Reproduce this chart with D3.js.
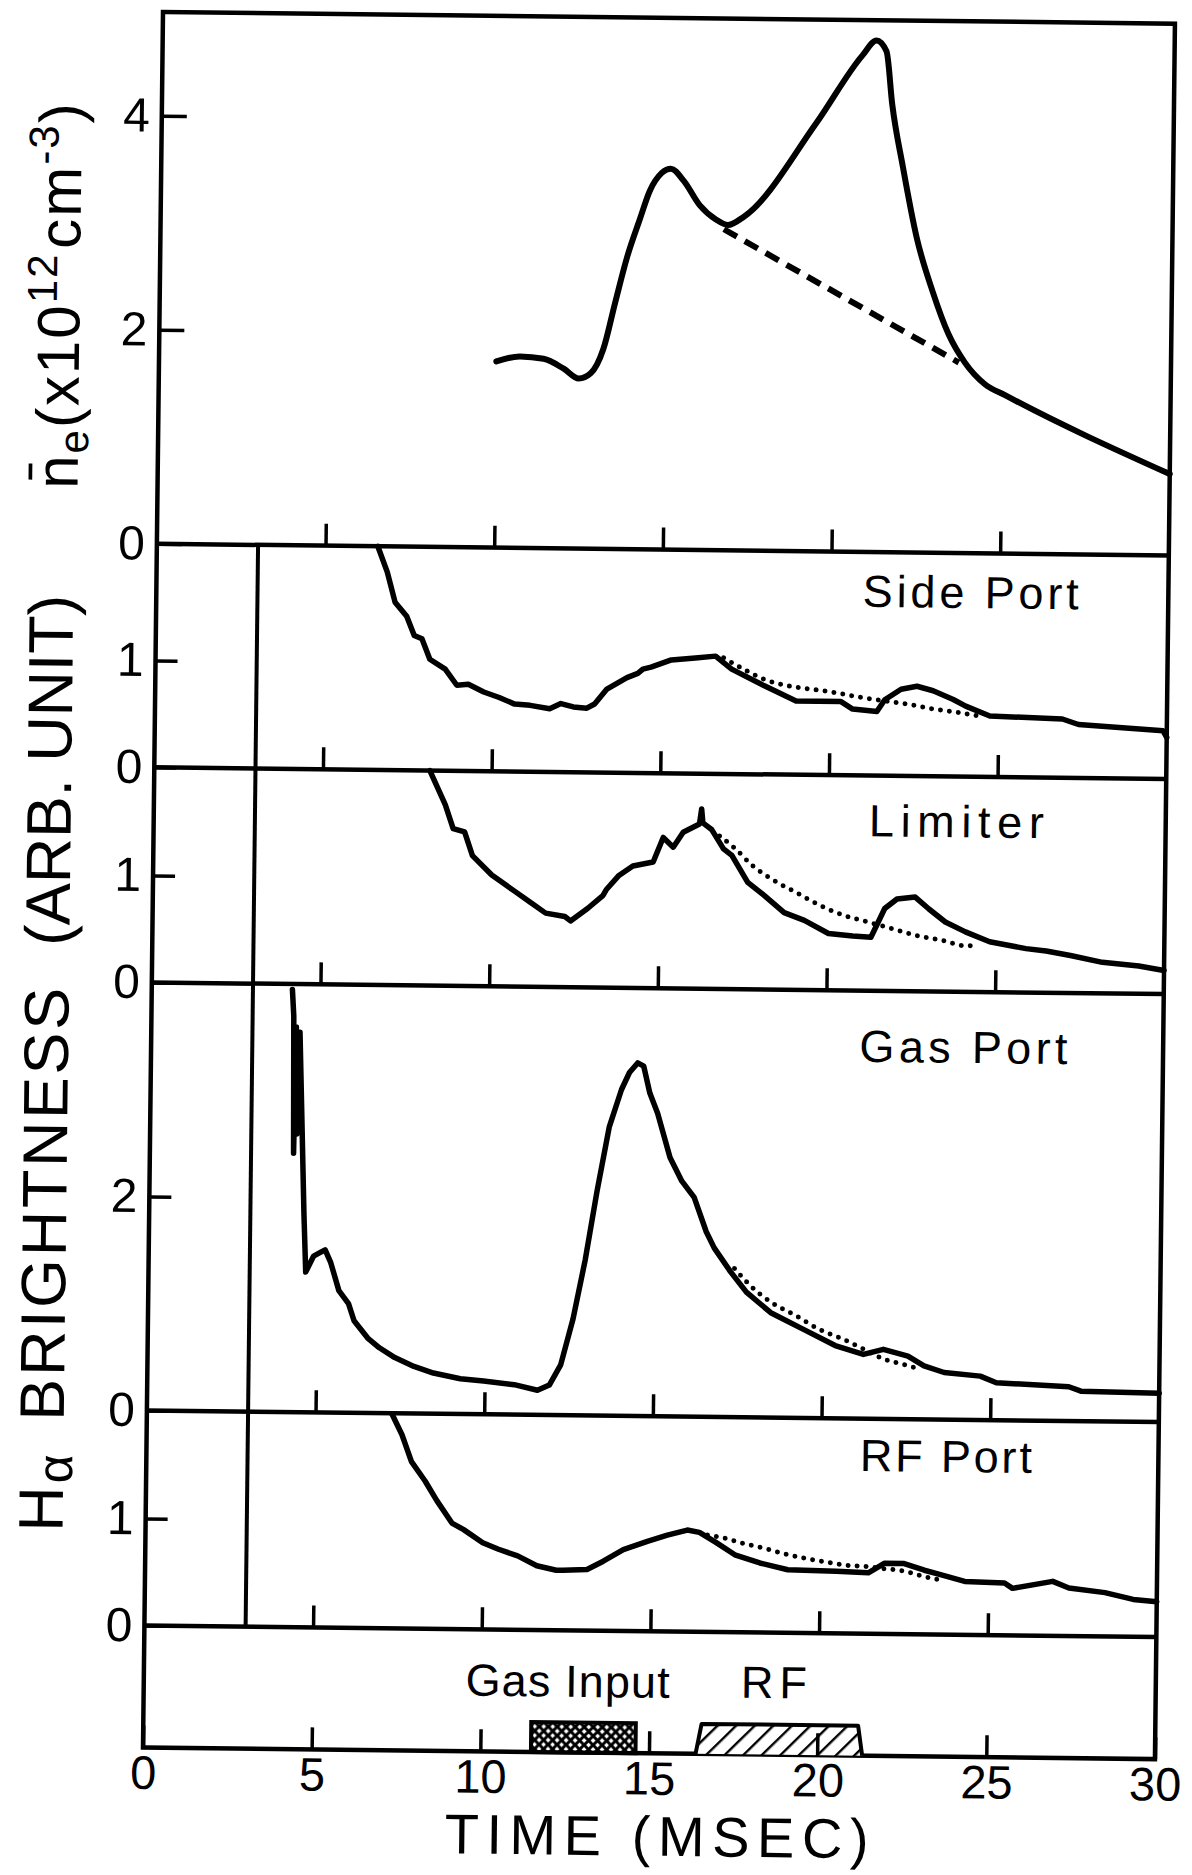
<!DOCTYPE html>
<html>
<head>
<meta charset="utf-8">
<script src="https://cdnjs.cloudflare.com/ajax/libs/d3/7.8.5/d3.min.js"></script>
<style>
  body { margin: 0; background: #fff; }
  svg { display: block; }
  text { font-family: "Liberation Sans", Arial, sans-serif; fill: #000; }
</style>
</head>
<body>
<svg id="chart" width="1192" height="1875"></svg>
<script>
// ---- data (time in msec) ----
const xTicks = [0, 5, 10, 15, 20, 25, 30];
const innerTicks = [5, 10, 15, 20, 25];

// line averaged density n_e (x10^12 cm^-3)
const neT = [10.0, 10.7, 11.4, 12.0, 12.45, 12.8, 13.17, 13.5, 13.85, 14.2, 14.49, 14.84, 15.11, 15.49, 15.98, 16.46, 16.82, 17.29, 19.4, 20.75, 21.16, 21.46, 21.65, 21.98, 22.42, 22.91, 23.4, 23.89, 24.49, 25.09, 30.0];
const neV = [1.74, 1.79, 1.77, 1.68, 1.59, 1.64, 1.87, 2.3, 2.74, 3.08, 3.35, 3.52, 3.56, 3.45, 3.22, 3.09, 3.04, 3.12, 4.0, 4.64, 4.78, 4.68, 4.18, 3.61, 2.94, 2.44, 2.04, 1.78, 1.58, 1.48, 0.76];
const neBaseT = [16.7, 23.71];
const neBaseV = [3.0, 1.78];

// H-alpha brightness, side port
const sideT = [6.55, 6.84, 7.08, 7.43, 7.66, 7.89, 8.13, 8.59, 8.94, 9.28, 9.74, 10.2, 10.66, 11.12, 11.7, 12.03, 12.4, 12.8, 13.03, 13.39, 13.98, 14.3, 14.45, 14.69, 15.29, 16.0, 16.6, 17.08, 18.04, 19.0, 20.32, 20.68, 21.4, 21.63, 22.11, 22.58, 23.06, 23.66, 24.03, 24.75, 26.9, 27.38, 29.89, 30.0];
const sideV = [2.09, 1.85, 1.57, 1.44, 1.26, 1.23, 1.04, 0.95, 0.8, 0.81, 0.74, 0.69, 0.63, 0.62, 0.59, 0.64, 0.61, 0.6, 0.64, 0.78, 0.89, 0.93, 0.97, 0.99, 1.06, 1.08, 1.1, 0.98, 0.83, 0.69, 0.69, 0.62, 0.6, 0.71, 0.81, 0.84, 0.8, 0.72, 0.66, 0.57, 0.55, 0.5, 0.45, 0.39];
const sideFitT = [16.84, 17.44, 18.04, 18.76, 19.48, 20.2, 20.92, 21.63, 22.35, 23.07, 23.79, 24.39];
const sideFitV = [1.085, 0.98, 0.89, 0.83, 0.8, 0.77, 0.73, 0.7, 0.67, 0.63, 0.6, 0.57];

// limiter
const limT = [8.17, 8.64, 8.88, 9.22, 9.46, 10.04, 10.73, 11.19, 11.65, 12.22, 12.39, 12.9, 13.34, 13.45, 13.81, 14.22, 14.82, 15.11, 15.41, 15.7, 16.18, 16.24, 16.28, 16.54, 16.9, 17.15, 17.63, 18.12, 18.72, 19.32, 20.04, 20.76, 21.3, 21.7, 22.06, 22.6, 23.01, 23.5, 24.1, 24.82, 25.9, 26.5, 27.22, 28.17, 29.25, 30.0];
const limV = [2.01, 1.69, 1.47, 1.44, 1.22, 1.04, 0.89, 0.79, 0.69, 0.66, 0.62, 0.74, 0.86, 0.92, 1.05, 1.14, 1.18, 1.41, 1.32, 1.46, 1.54, 1.68, 1.55, 1.49, 1.31, 1.25, 1.0, 0.88, 0.72, 0.65, 0.53, 0.51, 0.5, 0.77, 0.86, 0.88, 0.77, 0.65, 0.56, 0.47, 0.41, 0.39, 0.35, 0.29, 0.26, 0.22];
const limFitT = [16.78, 17.26, 17.75, 18.35, 19.07, 19.79, 20.51, 21.23, 21.95, 22.67, 23.39, 24.1, 24.47];
const limFitV = [1.43, 1.31, 1.16, 1.03, 0.91, 0.79, 0.7, 0.64, 0.58, 0.52, 0.48, 0.43, 0.43];

// gas port
const gasT = [4.17, 4.22, 4.26, 4.3, 4.35, 4.41, 4.59, 4.66, 4.89, 5.06, 5.23, 5.4, 5.65, 5.94, 6.11, 6.52, 6.87, 7.33, 7.9, 8.48, 9.28, 9.97, 10.88, 11.57, 11.92, 12.25, 12.6, 12.94, 13.27, 13.61, 13.96, 14.19, 14.43, 14.61, 14.8, 15.04, 15.42, 15.78, 16.15, 16.52, 16.76, 17.25, 17.73, 18.46, 19.42, 20.38, 21.22, 21.81, 22.54, 23.02, 23.62, 24.69, 25.17, 27.32, 27.68, 30.0];
const gasV = [3.95, 3.7, 2.42, 3.6, 2.6, 3.55, 1.84, 1.31, 1.46, 1.49, 1.52, 1.4, 1.14, 1.02, 0.86, 0.7, 0.61, 0.52, 0.44, 0.38, 0.33, 0.31, 0.28, 0.23, 0.28, 0.47, 0.9, 1.45, 2.1, 2.7, 3.05, 3.21, 3.3, 3.27, 3.02, 2.83, 2.42, 2.2, 2.05, 1.73, 1.58, 1.36, 1.17, 0.98, 0.83, 0.68, 0.6, 0.65, 0.59, 0.5, 0.44, 0.41, 0.35, 0.32, 0.28, 0.27];
const gasFitT = [17.37, 17.85, 18.46, 19.18, 19.9, 20.62, 21.22, 21.82, 22.42, 22.9];
const gasFitV = [1.39, 1.23, 1.08, 0.96, 0.83, 0.74, 0.65, 0.56, 0.51, 0.47];

// RF port
const rfT = [7.27, 7.57, 7.86, 8.27, 8.62, 9.08, 9.43, 10.0, 10.47, 11.04, 11.61, 12.19, 12.39, 13.1, 13.58, 14.17, 14.88, 15.47, 16.06, 16.42, 16.9, 17.5, 18.22, 19.05, 20.48, 21.44, 21.91, 22.5, 23.1, 23.58, 24.3, 25.48, 25.72, 26.91, 27.39, 28.46, 29.3, 30.0];
const rfV = [2.0, 1.81, 1.56, 1.38, 1.2, 0.99, 0.93, 0.81, 0.75, 0.69, 0.6, 0.56, 0.56, 0.57, 0.65, 0.76, 0.84, 0.9, 0.95, 0.93, 0.84, 0.72, 0.65, 0.59, 0.58, 0.57, 0.66, 0.66, 0.6, 0.56, 0.5, 0.49, 0.44, 0.51, 0.45, 0.41, 0.35, 0.33];
const rfFitT = [16.66, 17.14, 17.73, 18.33, 18.93, 19.53, 20.12, 20.72, 21.31, 21.91, 22.5, 23.1, 23.58];
const rfFitV = [0.905, 0.88, 0.83, 0.79, 0.74, 0.7, 0.67, 0.64, 0.63, 0.61, 0.59, 0.54, 0.51];

const panelNames = ['', 'Side Port', 'Limiter', 'Gas Port', 'RF Port'];
const panelMax = [4.97, 2.09, 2.01, 4.0, 2.01];
const panelTicks = [[0, 2, 4], [0, 1], [0, 1], [0, 2], [0, 1]];
const markerT = 3.0;                        // vertical line through the H-alpha panels
const gasInput = [11.5, 14.6];              // gas puff on/off
const rfPulse = [16.38, 16.55, 21.19, 21.32]; // rf ramp up / flat / ramp down

// ---- layout ----
const unit = 107;        // px per unit on every panel
const stripH = 122;
const W = 1012;

const svg = d3.select('#chart');
const defs = svg.append('defs');
defs.append('pattern').attr('id', 'xhatch').attr('patternUnits', 'userSpaceOnUse')
  .attr('width', 9).attr('height', 9)
  .call(p => {
    p.append('rect').attr('width', 9).attr('height', 9).attr('fill', '#fff');
    p.append('path').attr('d', 'M0,0L9,9M9,0L0,9').attr('stroke', '#000').attr('stroke-width', 3);
  });
defs.append('pattern').attr('id', 'hatch').attr('patternUnits', 'userSpaceOnUse')
  .attr('width', 13).attr('height', 13).attr('patternTransform', 'rotate(45)')
  .call(p => {
    p.append('rect').attr('width', 13).attr('height', 13).attr('fill', '#fff');
    p.append('line').attr('x1', 1).attr('y1', 0).attr('x2', 1).attr('y2', 13).attr('stroke', '#000').attr('stroke-width', 2.8);
  });

// whole figure is slightly rotated in the scan
const g = svg.append('g').attr('transform', 'translate(163,12) rotate(0.66)');

const x = d3.scaleLinear().domain([0, 30]).range([0, W]);

const series = [
  { t: neT, v: neV, extraT: neBaseT, extraV: neBaseV, dash: '15 9', curve: d3.curveMonotoneX, tickLen: 25 },
  { t: sideT, v: sideV, extraT: sideFitT, extraV: sideFitV, dash: 'dot', curve: d3.curveLinear, tickLen: 22 },
  { t: limT, v: limV, extraT: limFitT, extraV: limFitV, dash: 'dot', curve: d3.curveLinear, tickLen: 22 },
  { t: gasT, v: gasV, extraT: gasFitT, extraV: gasFitV, dash: 'dot', curve: d3.curveLinear, tickLen: 22 },
  { t: rfT, v: rfV, extraT: rfFitT, extraV: rfFitV, dash: 'dot', curve: d3.curveLinear, tickLen: 22 }
];

let yCursor = 0;
series.forEach((s, i) => {
  s.top = yCursor;
  s.h = panelMax[i] * unit;
  s.y = d3.scaleLinear().domain([0, panelMax[i]]).range([yCursor + s.h, yCursor]);
  yCursor += s.h;
});
const plotBottom = yCursor + stripH;

function styleAxis(sel) {
  sel.attr('font-size', null).attr('font-family', null);
  sel.select('.domain').remove();
  sel.selectAll('.tick line').attr('stroke', '#000').attr('stroke-width', 3.5);
  sel.selectAll('.tick text').attr('font-size', 48).attr('fill', '#000');
}

// axes
series.forEach((s, i) => {
  g.append('g').attr('transform', `translate(0,${s.top + s.h})`)
    .call(d3.axisBottom(x).tickValues(innerTicks).tickSize(-22).tickFormat(''))
    .call(styleAxis);
  g.append('g')
    .call(d3.axisLeft(s.y).tickValues(panelTicks[i]).tickSize(-s.tickLen).tickPadding(12).tickFormat(d3.format('d')))
    .call(styleAxis);
});

g.append('g').attr('transform', `translate(0,${plotBottom})`)
  .call(d3.axisBottom(x).tickValues(xTicks).tickSize(-22).tickPadding(8).tickFormat(d3.format('d')))
  .call(styleAxis)
  .call(a => a.selectAll('.tick text').attr('font-size', 47));

// frame + panel separators
g.append('rect').attr('x', 0).attr('y', 0).attr('width', W).attr('height', plotBottom)
  .attr('fill', 'none').attr('stroke', '#000').attr('stroke-width', 4.5);
g.selectAll('line.sep').data(series).join('line').attr('class', 'sep')
  .attr('x1', 0).attr('x2', W)
  .attr('y1', s => s.top + s.h).attr('y2', s => s.top + s.h)
  .attr('stroke', '#000').attr('stroke-width', 4.5);

// marker line at t = 3 ms
g.append('line')
  .attr('x1', x(markerT)).attr('x2', x(markerT))
  .attr('y1', series[1].top).attr('y2', series[4].top + series[4].h)
  .attr('stroke', '#000').attr('stroke-width', 4);

// traces
series.forEach((s, i) => {
  const line = d3.line().x(d => x(d[0])).y(d => s.y(d[1])).curve(s.curve);
  g.append('path').datum(d3.zip(s.t, s.v)).attr('d', line)
    .attr('fill', 'none').attr('stroke', '#000')
    .attr('stroke-width', i === 0 ? 6 : 5.5).attr('stroke-linejoin', 'round').attr('stroke-linecap', 'round');
  const fit = g.append('path').datum(d3.zip(s.extraT, s.extraV))
    .attr('d', d3.line().x(d => x(d[0])).y(d => s.y(d[1])).curve(d3.curveMonotoneX))
    .attr('fill', 'none').attr('stroke', '#000');
  if (s.dash === 'dot') {
    fit.attr('stroke-width', 5).attr('stroke-dasharray', '0 9').attr('stroke-linecap', 'round');
  } else {
    fit.attr('stroke-width', 6).attr('stroke-dasharray', s.dash);
  }
});

// panel names
const namePos = [null, [20.94, 586.7], [21.2, 816.1], [21.0, 1041.6], [21.15, 1450.9]];
const nameLen = [0, 216, 175, 208, 172];
panelNames.forEach((n, i) => {
  if (!n) return;
  g.append('text').attr('x', x(namePos[i][0])).attr('y', namePos[i][1])
    .attr('font-size', 45).attr('textLength', nameLen[i]).attr('lengthAdjust', 'spacing')
    .text(n);
});

// gas input / rf bars in the bottom strip
g.append('rect')
  .attr('x', x(gasInput[0])).attr('y', plotBottom - 30)
  .attr('width', x(gasInput[1]) - x(gasInput[0])).attr('height', 30)
  .attr('fill', 'url(#xhatch)').attr('stroke', '#000').attr('stroke-width', 4);
g.append('path')
  .attr('d', d3.line()([
    [x(rfPulse[0]), plotBottom], [x(rfPulse[1]), plotBottom - 30],
    [x(rfPulse[2]), plotBottom - 30], [x(rfPulse[3]), plotBottom]
  ]))
  .attr('fill', 'url(#hatch)').attr('stroke', '#000').attr('stroke-width', 4).attr('stroke-linejoin', 'round');
g.append('line').attr('x1', x(20)).attr('x2', x(20)).attr('y1', plotBottom).attr('y2', plotBottom - 22)
  .attr('stroke', '#000').attr('stroke-width', 3.5);

g.append('text').attr('x', x(9.54)).attr('y', 1680)
  .attr('font-size', 45).attr('textLength', 204).attr('lengthAdjust', 'spacing').text('Gas Input');
g.append('text').attr('x', x(17.7)).attr('y', 1679)
  .attr('font-size', 45).attr('textLength', 66).attr('lengthAdjust', 'spacing').text('RF');

// axis titles
g.append('text').attr('x', x(8.97)).attr('y', 1838)
  .attr('font-size', 56).attr('textLength', 424).attr('lengthAdjust', 'spacing').text('TIME (MSEC)');

const ha = g.append('text').attr('transform', 'translate(-83,1521) rotate(-90)').attr('font-size', 63);
ha.append('tspan').text('H');
ha.append('tspan').attr('font-size', 50).attr('dy', 9).attr('dx', 3).text('α');
g.append('text').attr('transform', 'translate(-83,1410) rotate(-90)')
  .attr('font-size', 63).attr('textLength', 433).attr('lengthAdjust', 'spacing').text('BRIGHTNESS');
g.append('text').attr('transform', 'translate(-83,935) rotate(-90)')
  .attr('font-size', 63).attr('textLength', 351).attr('lengthAdjust', 'spacing').text('(ARB. UNIT)');

const ne = g.append('text').attr('transform', 'translate(-80,478) rotate(-90)')
  .attr('font-size', 60).attr('letter-spacing', 2);
ne.append('tspan').text('n\u0304');
ne.append('tspan').attr('font-size', 42).attr('dy', 10).text('e');
ne.append('tspan').attr('dy', -10).text('(x10');
ne.append('tspan').attr('font-size', 42).attr('dy', -23).text('12');
ne.append('tspan').attr('dy', 23).attr('dx', 4).text('cm');
ne.append('tspan').attr('font-size', 42).attr('dy', -23).text('-3');
ne.append('tspan').attr('dy', 23).text(')');
</script>
</body>
</html>
